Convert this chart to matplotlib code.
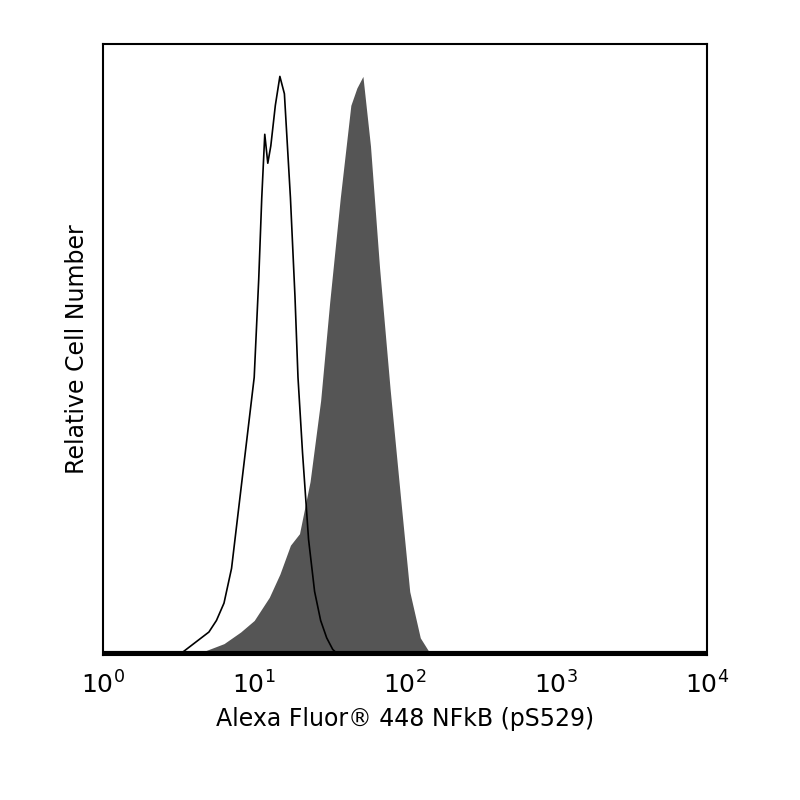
import matplotlib
matplotlib.use("Agg")
import matplotlib.pyplot as plt
import numpy as np

ctrl_logx = [0.50,0.55,0.60,0.65,0.70,0.75,0.80,0.85,0.90,0.95,1.00,1.03,1.05,1.07,1.09,1.11,1.14,1.17,1.20,1.22,1.24,1.27,1.29,1.32,1.36,1.40,1.44,1.48,1.52,1.56]
ctrl_y = [0,1,2,3,4,6,9,15,26,37,48,65,79,90,85,88,95,100,97,88,79,62,48,35,20,11,6,3,1,0]
stim_logx = [0.60,0.70,0.80,0.91,1.00,1.10,1.17,1.24,1.30,1.37,1.44,1.50,1.57,1.64,1.68,1.72,1.77,1.83,1.90,1.97,2.03,2.10,2.16,2.20]
stim_y = [0,1,2,4,6,10,14,19,21,30,44,61,79,95,98,100,88,67,46,27,11,3,0.5,0]
xticks = [1, 10, 100, 1000, 10000]
xticklabels = [r"$10^0$", r"$10^1$", r"$10^2$", r"$10^3$", r"$10^4$"]

fig = plt.figure(figsize=(8, 8), dpi=100)
ax = fig.add_axes([0.129, 0.181, 0.755, 0.764])
sx = 10 ** np.array(stim_logx)
cx = 10 ** np.array(ctrl_logx)
ax.fill_between(sx, stim_y, 0, color="#555555", linewidth=0)
ax.plot(cx, ctrl_y, color="black", linewidth=1.2)
ax.axhline(0.3, color="black", linewidth=3)
ax.set_xscale("log")
ax.set_xlim(1, 10000)
ax.set_ylim(0, 105.6)
ax.set_xticks(xticks)
ax.set_xticklabels(xticklabels, fontsize=18)
ax.minorticks_off()
ax.tick_params(axis="x", length=0, pad=12)
ax.set_yticks([])
for s in ax.spines.values():
    s.set_linewidth(1.5)
ax.set_xlabel("Alexa Fluor\u00ae 448 NFkB (pS529)", fontsize=17, labelpad=6)
ax.set_ylabel("Relative Cell Number", fontsize=17, labelpad=10)
fig.savefig("out.png", dpi=100, facecolor="white")
